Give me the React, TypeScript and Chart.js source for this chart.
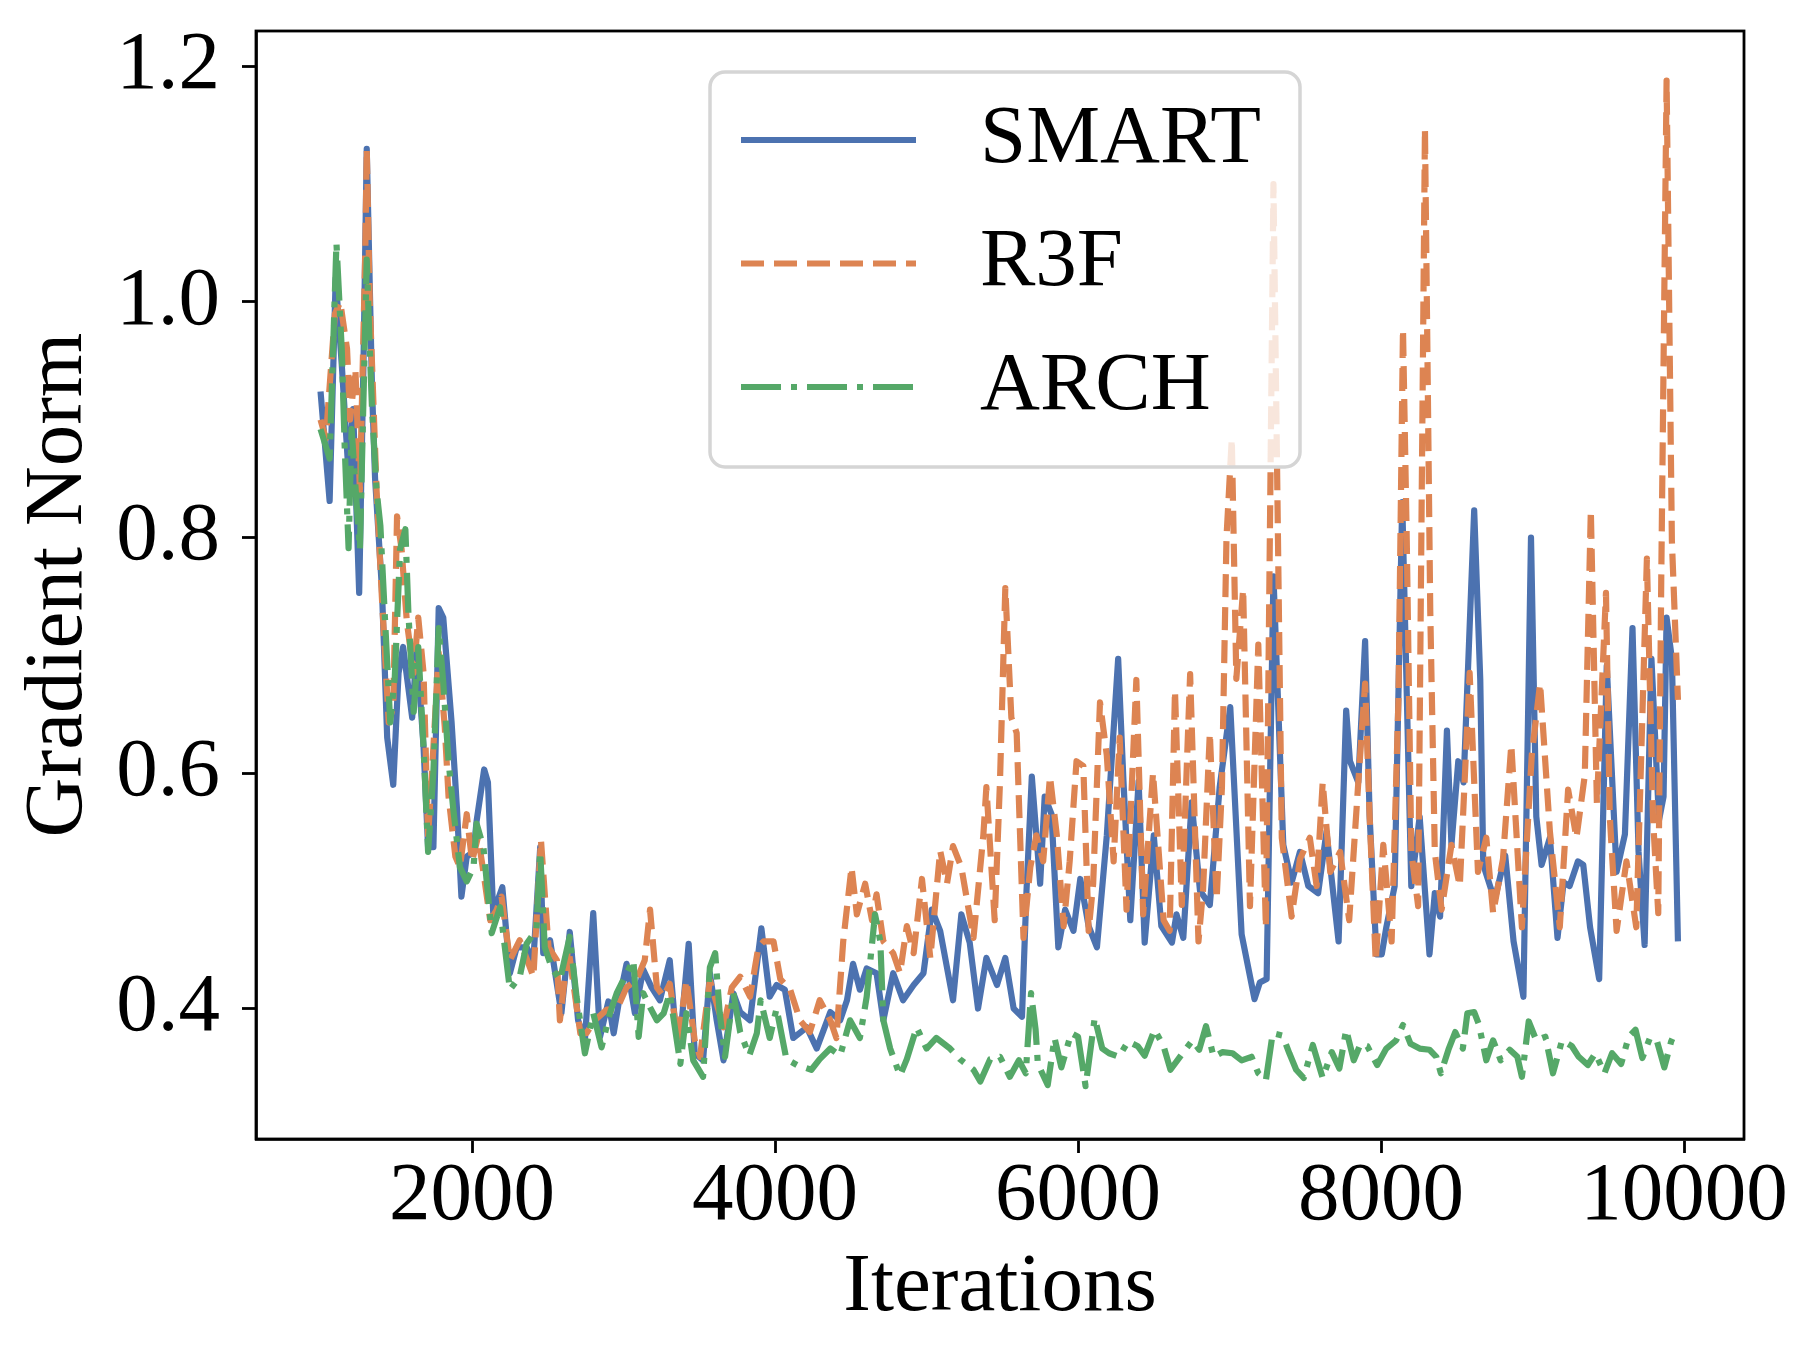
import React, { useEffect, useRef } from 'react';
import { Chart, registerables } from 'chart.js';

Chart.register(...registerables);

// ---------- data ----------
const xTickValues = [2000, 4000, 6000, 8000, 10000];
const yTickValues = [0.4, 0.6, 0.8, 1.0, 1.2];
const seriesLabels = ['SMART', 'R3F', 'ARCH'];
const xTitle = 'Iterations';
const yTitle = 'Gradient Norm';

const smartX = [
  1000, 1060, 1100, 1140, 1185, 1215, 1255, 1285, 1305, 1340, 1360, 1405, 1440, 1480, 1515, 1545,
  1605, 1635, 1680, 1710, 1745, 1780, 1810, 1865, 1900, 1930, 1965, 2010, 2030, 2080, 2105, 2140,
  2200, 2250, 2295, 2360, 2405, 2450, 2470, 2515, 2590, 2645, 2700, 2745, 2800, 2845, 2900, 2935,
  2975, 3020, 3075, 3130, 3185, 3240, 3305, 3340, 3385, 3430, 3470, 3525, 3570, 3615, 3660, 3725,
  3770, 3835, 3910, 3965, 4010, 4065, 4120, 4210, 4275, 4365, 4430, 4475, 4515, 4560, 4605, 4670,
  4715, 4780, 4845, 4915, 4980, 5035, 5090, 5175, 5230, 5285, 5340, 5395, 5465, 5520, 5575, 5630,
  5660, 5695, 5750, 5780, 5825, 5870, 5915, 5970, 6015, 6070, 6125, 6190, 6265, 6300, 6345, 6400,
  6440, 6500, 6550, 6620, 6650, 6695, 6750, 6805, 6870, 6935, 7005, 7080, 7165, 7200, 7245, 7290,
  7355, 7410, 7465, 7520, 7585, 7640, 7720, 7770, 7795, 7850, 7895, 7925, 7970, 8005, 8035, 8090,
  8140, 8200, 8255, 8320, 8355, 8390, 8435, 8465, 8510, 8545, 8615, 8655, 8675, 8750, 8820, 8875,
  8940, 8990, 9025, 9060, 9115, 9165, 9205, 9245, 9300, 9335, 9380, 9440, 9490, 9555, 9610, 9660,
  9700, 9740, 9785, 9835, 9865, 9885, 9920, 9960,
];
const smartY = [
  0.924, 0.831, 1.02, 0.947, 0.854, 0.909, 0.753, 0.96, 1.13, 0.926, 0.85, 0.757, 0.63, 0.59, 0.685, 0.707,
  0.647, 0.707, 0.622, 0.537, 0.537, 0.74, 0.732, 0.643, 0.571, 0.495, 0.529, 0.533, 0.559, 0.603, 0.592, 0.481,
  0.503, 0.43, 0.452, 0.452, 0.441, 0.537, 0.447, 0.458, 0.396, 0.465, 0.39, 0.373, 0.481, 0.376, 0.406, 0.379,
  0.41, 0.438, 0.396, 0.433, 0.418, 0.407, 0.441, 0.387, 0.39, 0.455, 0.362, 0.356, 0.43, 0.39, 0.356, 0.413,
  0.397, 0.39, 0.468, 0.41, 0.42, 0.416, 0.375, 0.384, 0.366, 0.397, 0.39, 0.407, 0.438, 0.416, 0.434, 0.43,
  0.39, 0.43, 0.407, 0.42, 0.43, 0.484, 0.466, 0.407, 0.48, 0.456, 0.40, 0.443, 0.42, 0.443, 0.40, 0.393,
  0.50, 0.597, 0.506, 0.58, 0.565, 0.452, 0.484, 0.466, 0.51, 0.47, 0.452, 0.547, 0.697, 0.593, 0.475, 0.593,
  0.456, 0.547, 0.47, 0.456, 0.48, 0.46, 0.575, 0.50, 0.488, 0.588, 0.656, 0.463, 0.408, 0.422, 0.425, 0.767,
  0.539, 0.507, 0.533, 0.504, 0.498, 0.55, 0.457, 0.653, 0.61, 0.592, 0.712, 0.563, 0.446, 0.446, 0.469, 0.504,
  0.83, 0.504, 0.563, 0.446, 0.498, 0.478, 0.636, 0.539, 0.61, 0.592, 0.823, 0.68, 0.522, 0.492, 0.53, 0.457,
  0.41, 0.80, 0.563, 0.522, 0.545, 0.46, 0.507, 0.504, 0.525, 0.522, 0.469, 0.425, 0.691, 0.516, 0.548, 0.723,
  0.533, 0.454, 0.697, 0.56, 0.58, 0.732, 0.697, 0.457,
];

const r3fX = [
  1000, 1035, 1095, 1130, 1175, 1195, 1230, 1260, 1295, 1305, 1325, 1370, 1405, 1450, 1480, 1505,
  1535, 1570, 1615, 1645, 1680, 1710, 1745, 1780, 1820, 1845, 1890, 1920, 1965, 2000, 2040, 2075,
  2120, 2160, 2195, 2250, 2315, 2405, 2455, 2505, 2560, 2580, 2635, 2715, 2755, 2810, 2890, 2955,
  3020, 3085, 3140, 3175, 3220, 3265, 3305, 3360, 3415, 3470, 3505, 3570, 3660, 3715, 3770, 3835,
  3890, 3925, 3990, 4035, 4100, 4165, 4230, 4295, 4365, 4405, 4450, 4505, 4540, 4595, 4640, 4670,
  4715, 4780, 4825, 4870, 4915, 4970, 5025, 5090, 5135, 5175, 5230, 5310, 5375, 5395, 5450, 5485,
  5520, 5560, 5595, 5640, 5685, 5725, 5770, 5815, 5860, 5905, 5945, 5990, 6035, 6070, 6100, 6145,
  6190, 6235, 6275, 6320, 6385, 6430, 6495, 6565, 6605, 6640, 6685, 6740, 6795, 6825, 6870, 6915,
  6950, 6980, 7015, 7045, 7090, 7135, 7190, 7240, 7290, 7345, 7410, 7465, 7530, 7575, 7615, 7665,
  7730, 7790, 7850, 7895, 7925, 7965, 8015, 8070, 8115, 8145, 8170, 8200, 8245, 8270, 8290, 8325,
  8355, 8400, 8465, 8520, 8585, 8640, 8695, 8740, 8805, 8860, 8930, 8995, 9050, 9115, 9180, 9235,
  9290, 9345, 9385, 9425, 9485, 9510, 9555, 9620, 9685, 9755, 9795, 9830, 9850, 9885, 9920, 9960,
];
const r3fY = [
  0.90, 0.884, 0.99, 1.0, 0.96, 0.90, 0.943, 0.84, 1.04, 1.13, 1.0, 0.84, 0.749, 0.643, 0.656, 0.818,
  0.79, 0.728, 0.685, 0.732, 0.685, 0.546, 0.622, 0.702, 0.639, 0.58, 0.529, 0.52, 0.565, 0.525, 0.546, 0.516,
  0.475, 0.483, 0.495, 0.441, 0.458, 0.427, 0.543, 0.452, 0.441, 0.39, 0.452, 0.379, 0.379, 0.39, 0.399, 0.399,
  0.418, 0.424, 0.441, 0.484, 0.418, 0.41, 0.421, 0.373, 0.424, 0.373, 0.359, 0.424, 0.384, 0.418, 0.427, 0.41,
  0.452, 0.457, 0.457, 0.425, 0.416, 0.39, 0.38, 0.407, 0.39, 0.375, 0.457, 0.52, 0.48, 0.506, 0.475, 0.497,
  0.457, 0.447, 0.43, 0.47, 0.447, 0.51, 0.443, 0.534, 0.506, 0.538, 0.52, 0.46, 0.547, 0.588, 0.475, 0.593,
  0.757, 0.647, 0.634, 0.46, 0.52, 0.547, 0.525, 0.597, 0.547, 0.47, 0.525, 0.61, 0.606, 0.466, 0.506, 0.66,
  0.615, 0.525, 0.63, 0.484, 0.679, 0.48, 0.60, 0.475, 0.466, 0.67, 0.488, 0.684, 0.457, 0.50, 0.634, 0.493,
  0.588, 0.80, 0.884, 0.68, 0.756, 0.487, 0.709, 0.469, 1.10, 0.545, 0.478, 0.527, 0.545, 0.504, 0.592, 0.516,
  0.533, 0.475, 0.592, 0.676, 0.563, 0.44, 0.539, 0.457, 0.662, 0.977, 0.797, 0.533, 0.487, 0.855, 1.147, 0.738,
  0.533, 0.484, 0.539, 0.504, 0.685, 0.516, 0.545, 0.481, 0.527, 0.624, 0.469, 0.615, 0.676, 0.55, 0.469, 0.586,
  0.545, 0.598, 0.823, 0.574, 0.753, 0.563, 0.466, 0.525, 0.469, 0.782, 0.563, 0.481, 0.767, 1.188, 0.797, 0.662,
];

const archX = [
  1000, 1060, 1105, 1140, 1160, 1185, 1205, 1240, 1260, 1305, 1325, 1340, 1370, 1395, 1425, 1460,
  1490, 1525, 1560, 1580, 1615, 1645, 1680, 1710, 1745, 1780, 1810, 1845, 1875, 1920, 1965, 2010,
  2030, 2075, 2130, 2185, 2250, 2315, 2360, 2425, 2450, 2480, 2525, 2580, 2645, 2690, 2745, 2800,
  2855, 2910, 2955, 3020, 3065, 3100, 3130, 3175, 3220, 3265, 3305, 3375, 3415, 3460, 3525, 3570,
  3605, 3635, 3670, 3725, 3770, 3830, 3880, 3905, 3965, 4010, 4075, 4145, 4240, 4295, 4365, 4430,
  4495, 4560, 4605, 4660, 4695, 4715, 4760, 4825, 4870, 4935, 5000, 5065, 5155, 5220, 5310, 5355,
  5420, 5485, 5550, 5610, 5655, 5690, 5720, 5735, 5800, 5845, 5890, 5955, 6000, 6050, 6110, 6160,
  6205, 6270, 6330, 6395, 6440, 6505, 6565, 6610, 6690, 6755, 6800, 6845, 6895, 6955, 7020, 7080,
  7145, 7190, 7240, 7285, 7350, 7395, 7440, 7490, 7550, 7615, 7675, 7725, 7770, 7820, 7865, 7910,
  7975, 8035, 8100, 8145, 8195, 8255, 8320, 8365, 8395, 8445, 8490, 8540, 8570, 8615, 8645, 8695,
  8740, 8790, 8850, 8900, 8930, 8975, 9025, 9085, 9135, 9195, 9260, 9305, 9365, 9415, 9475, 9525,
  9585, 9635, 9680, 9725, 9775, 9820, 9870, 9915, 9950,
];
const archY = [
  0.892, 0.867, 1.05, 0.96, 0.875, 0.791, 0.892, 0.825, 0.79, 1.036, 0.96, 0.909, 0.84, 0.81, 0.732, 0.643,
  0.681, 0.79, 0.807, 0.736, 0.652, 0.707, 0.622, 0.533, 0.601, 0.723, 0.677, 0.61, 0.571, 0.52, 0.508, 0.52,
  0.557, 0.537, 0.464, 0.486, 0.416, 0.427, 0.455, 0.467, 0.533, 0.452, 0.435, 0.424, 0.461, 0.41, 0.362, 0.396,
  0.367, 0.396, 0.413, 0.43, 0.441, 0.376, 0.413, 0.401, 0.39, 0.396, 0.413, 0.353, 0.396, 0.356, 0.342, 0.435,
  0.447, 0.396, 0.359, 0.413, 0.38, 0.36, 0.379, 0.407, 0.375, 0.40, 0.357, 0.352, 0.348, 0.357, 0.366, 0.36,
  0.39, 0.375, 0.41, 0.48, 0.457, 0.39, 0.366, 0.343, 0.357, 0.384, 0.366, 0.375, 0.366, 0.357, 0.348, 0.338,
  0.357, 0.359, 0.342, 0.356, 0.345, 0.413, 0.382, 0.353, 0.335, 0.375, 0.35, 0.379, 0.376, 0.334, 0.392, 0.366,
  0.362, 0.359, 0.372, 0.368, 0.36, 0.382, 0.368, 0.348, 0.362, 0.373, 0.365, 0.385, 0.359, 0.363, 0.362, 0.356,
  0.359, 0.345, 0.339, 0.379, 0.377, 0.362, 0.348, 0.341, 0.369, 0.341, 0.363, 0.349, 0.382, 0.356, 0.37, 0.368,
  0.352, 0.366, 0.373, 0.386, 0.37, 0.366, 0.365, 0.359, 0.345, 0.365, 0.38, 0.366, 0.396, 0.397, 0.387, 0.356,
  0.373, 0.356, 0.365, 0.359, 0.342, 0.389, 0.373, 0.376, 0.345, 0.373, 0.368, 0.359, 0.352, 0.362, 0.345, 0.362,
  0.353, 0.376, 0.382, 0.358, 0.375, 0.373, 0.35, 0.372, 0.382,
];

// ---------- styling ----------
const FONT = '"Liberation Serif", "Times New Roman", serif';
const FONT_SIZE = 83;
const COLORS = ['#4C72B0', '#DD8452', '#55A868'];
const DASHES: number[][] = [[], [23, 10], [40, 10, 6, 10]];
const LINE_W = 6.2;

const toPoints = (xs: number[], ys: number[]) => xs.map((x, i) => ({ x, y: ys[i] }));

const frameLegendPlugin = {
  id: 'frameLegend',
  afterDatasetsDraw(chart: any) {
    const { ctx, chartArea: a } = chart;
    ctx.save();
    // full frame (spines)
    ctx.setLineDash([]);
    ctx.strokeStyle = '#000';
    ctx.lineWidth = 2.8;
    ctx.strokeRect(a.left, a.top, a.right - a.left, a.bottom - a.top);

    // legend box
    const lx = a.left + 454;
    const ly = a.top + 41;
    const lw = 590;
    const lh = 395;
    const r = 15;
    ctx.beginPath();
    ctx.moveTo(lx + r, ly);
    ctx.lineTo(lx + lw - r, ly);
    ctx.arcTo(lx + lw, ly, lx + lw, ly + r, r);
    ctx.lineTo(lx + lw, ly + lh - r);
    ctx.arcTo(lx + lw, ly + lh, lx + lw - r, ly + lh, r);
    ctx.lineTo(lx + r, ly + lh);
    ctx.arcTo(lx, ly + lh, lx, ly + lh - r, r);
    ctx.lineTo(lx, ly + r);
    ctx.arcTo(lx, ly, lx + r, ly, r);
    ctx.closePath();
    ctx.fillStyle = 'rgba(255,255,255,0.8)';
    ctx.fill();
    ctx.strokeStyle = '#d5d5d5';
    ctx.lineWidth = 3.5;
    ctx.stroke();

    chart.data.datasets.forEach((ds: any, i: number) => {
      const y = ly + 68 + i * 123.5;
      ctx.beginPath();
      ctx.setLineDash(ds.borderDash || []);
      ctx.lineCap = 'butt';
      ctx.strokeStyle = ds.borderColor;
      ctx.lineWidth = ds.borderWidth;
      ctx.moveTo(lx + 31, y);
      ctx.lineTo(lx + 206, y);
      ctx.stroke();
      ctx.setLineDash([]);
      ctx.fillStyle = '#000';
      ctx.font = `${FONT_SIZE}px ${FONT}`;
      ctx.textAlign = 'left';
      ctx.textBaseline = 'middle';
      ctx.fillText(ds.label, lx + 270, y);
    });
    ctx.restore();
  },
};

export default function App() {
  const canvasRef = useRef<HTMLCanvasElement | null>(null);

  useEffect(() => {
    document.body.style.margin = '0';
    let chart: Chart | null = null;
    let cancelled = false;

    const build = () => {
      if (cancelled || !canvasRef.current) return;
      const seriesX = [smartX, r3fX, archX];
      const seriesY = [smartY, r3fY, archY];
      const datasets = seriesLabels.map((label, i) => ({
        label,
        data: toPoints(seriesX[i], seriesY[i]),
        borderColor: COLORS[i],
        backgroundColor: COLORS[i],
        borderWidth: LINE_W,
        borderDash: DASHES[i],
        borderJoinStyle: 'round' as const,
        borderCapStyle: 'butt' as const,
        pointRadius: 0,
        tension: 0,
        fill: false,
        order: 3 - i,
      }));

      chart = new Chart(canvasRef.current, {
        type: 'line',
        data: { datasets },
        options: {
          animation: false,
          responsive: false,
          devicePixelRatio: 1,
          layout: { padding: { left: 0, right: 71, top: 31, bottom: 0 } },
          plugins: { legend: { display: false }, tooltip: { enabled: false } },
          scales: {
            x: {
              type: 'linear',
              min: 574,
              max: 10396,
              afterBuildTicks: (s: any) => {
                s.ticks = xTickValues.map((v) => ({ value: v }));
              },
              afterFit: (s: any) => {
                s.height = 224;
                s.paddingLeft = 0;
                s.paddingRight = 0;
              },
              ticks: {
                autoSkip: false,
                maxRotation: 0,
                minRotation: 0,
                padding: 2.5,
                color: '#000',
                font: { family: FONT, size: FONT_SIZE, lineHeight: 1.0 },
                callback: (v: any) => String(v),
              },
              grid: {
                drawOnChartArea: false,
                drawTicks: true,
                tickLength: 14,
                tickWidth: 2.8,
                color: '#000',
              },
              border: { display: true, color: '#000', width: 2.8 },
              title: {
                display: true,
                text: xTitle,
                color: '#000',
                font: { family: FONT, size: FONT_SIZE, lineHeight: 1.2 },
                padding: { top: 0, bottom: 25 },
              },
            },
            y: {
              type: 'linear',
              min: 0.2892,
              max: 1.2301,
              afterBuildTicks: (s: any) => {
                s.ticks = yTickValues.map((v) => ({ value: v }));
              },
              afterFit: (s: any) => {
                s.width = 256;
                s.paddingTop = 0;
                s.paddingBottom = 0;
              },
              ticks: {
                autoSkip: false,
                padding: 22,
                color: '#000',
                font: { family: FONT, size: FONT_SIZE, lineHeight: 1.0 },
                callback: (v: any) => Number(v).toFixed(1),
              },
              grid: {
                drawOnChartArea: false,
                drawTicks: true,
                tickLength: 14,
                tickWidth: 2.8,
                color: '#000',
              },
              border: { display: true, color: '#000', width: 2.8 },
              title: {
                display: true,
                text: yTitle,
                color: '#000',
                font: { family: FONT, size: FONT_SIZE, lineHeight: 1.2 },
                padding: { top: 9, bottom: 0 },
              },
            },
          },
        },
        plugins: [frameLegendPlugin],
      });
    };

    const fontsApi = (document as any).fonts;
    if (fontsApi && fontsApi.load) {
      fontsApi
        .load(`${FONT_SIZE}px "Liberation Serif"`)
        .then(build, build);
    } else {
      build();
    }

    return () => {
      cancelled = true;
      if (chart) chart.destroy();
      chart = null;
    };
  }, []);

  return (
    <div style={{ width: 1815, height: 1363, background: '#fff' }}>
      <canvas ref={canvasRef} width={1815} height={1363} style={{ display: 'block' }} />
    </div>
  );
}
